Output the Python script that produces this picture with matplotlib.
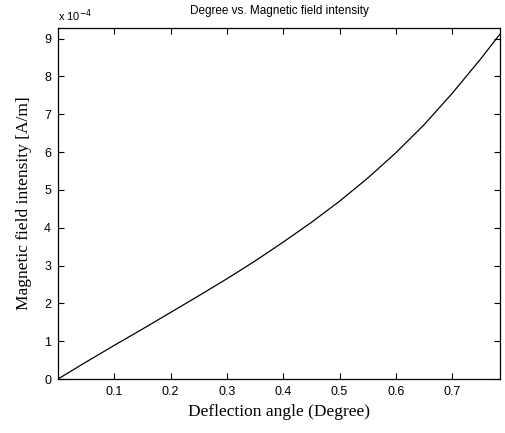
import numpy as np
import matplotlib
matplotlib.use("Agg")
import matplotlib.pyplot as plt
from matplotlib.ticker import FuncFormatter

# deflection angle vs field intensity (field in 1e-4 A/m)
angle = [0.0, 0.05, 0.1, 0.15, 0.2, 0.25, 0.3, 0.35, 0.4, 0.45, 0.5,
         0.55, 0.6, 0.65, 0.7, 0.75, 0.785]
field = [0.0, 0.45, 0.89, 1.32, 1.76, 2.20, 2.65, 3.12, 3.62, 4.14, 4.70,
         5.31, 5.98, 6.72, 7.55, 8.45, 9.12]
field = np.array(field) * 1e-4

xticks = [0.1, 0.2, 0.3, 0.4, 0.5, 0.6, 0.7]
yticks = np.arange(0, 10) * 1e-4

fig = plt.figure(figsize=(5.06, 4.33), dpi=100)
ax = fig.add_axes([0.1146, 0.1247, 0.8735, 0.8106])
ax.plot(angle, field, color="black", lw=0.9)

ax.set_xlim(0, 0.785)
ax.set_ylim(0, 9.28e-4)
ax.set_xticks(xticks)
ax.set_yticks(yticks)
ax.yaxis.set_major_formatter(FuncFormatter(lambda v, p: "%d" % round(v * 1e4)))
ax.tick_params(direction="in", top=True, right=True, length=4, width=0.8,
               labelsize=9, pad=5)
for lbl in ax.get_xticklabels() + ax.get_yticklabels():
    lbl.set_family("Liberation Sans")
for s in ax.spines.values():
    s.set_linewidth(0.9)

ax.set_title("Degree vs. Magnetic field intensity", fontsize=8.5,
             family="Liberation Sans", pad=10)
ax.text(0.0, 1.012, r"x 10$^{-4}$", transform=ax.transAxes, fontsize=8,
        family="Liberation Sans", ha="left", va="bottom")
ax.set_xlabel("Deflection angle (Degree)", family="Liberation Serif",
              fontsize=12.5, labelpad=4)
ax.set_ylabel("Magnetic field intensity [A/m]", family="Liberation Serif",
              fontsize=12.5, labelpad=9)

fig.savefig("out.png", dpi=100)
